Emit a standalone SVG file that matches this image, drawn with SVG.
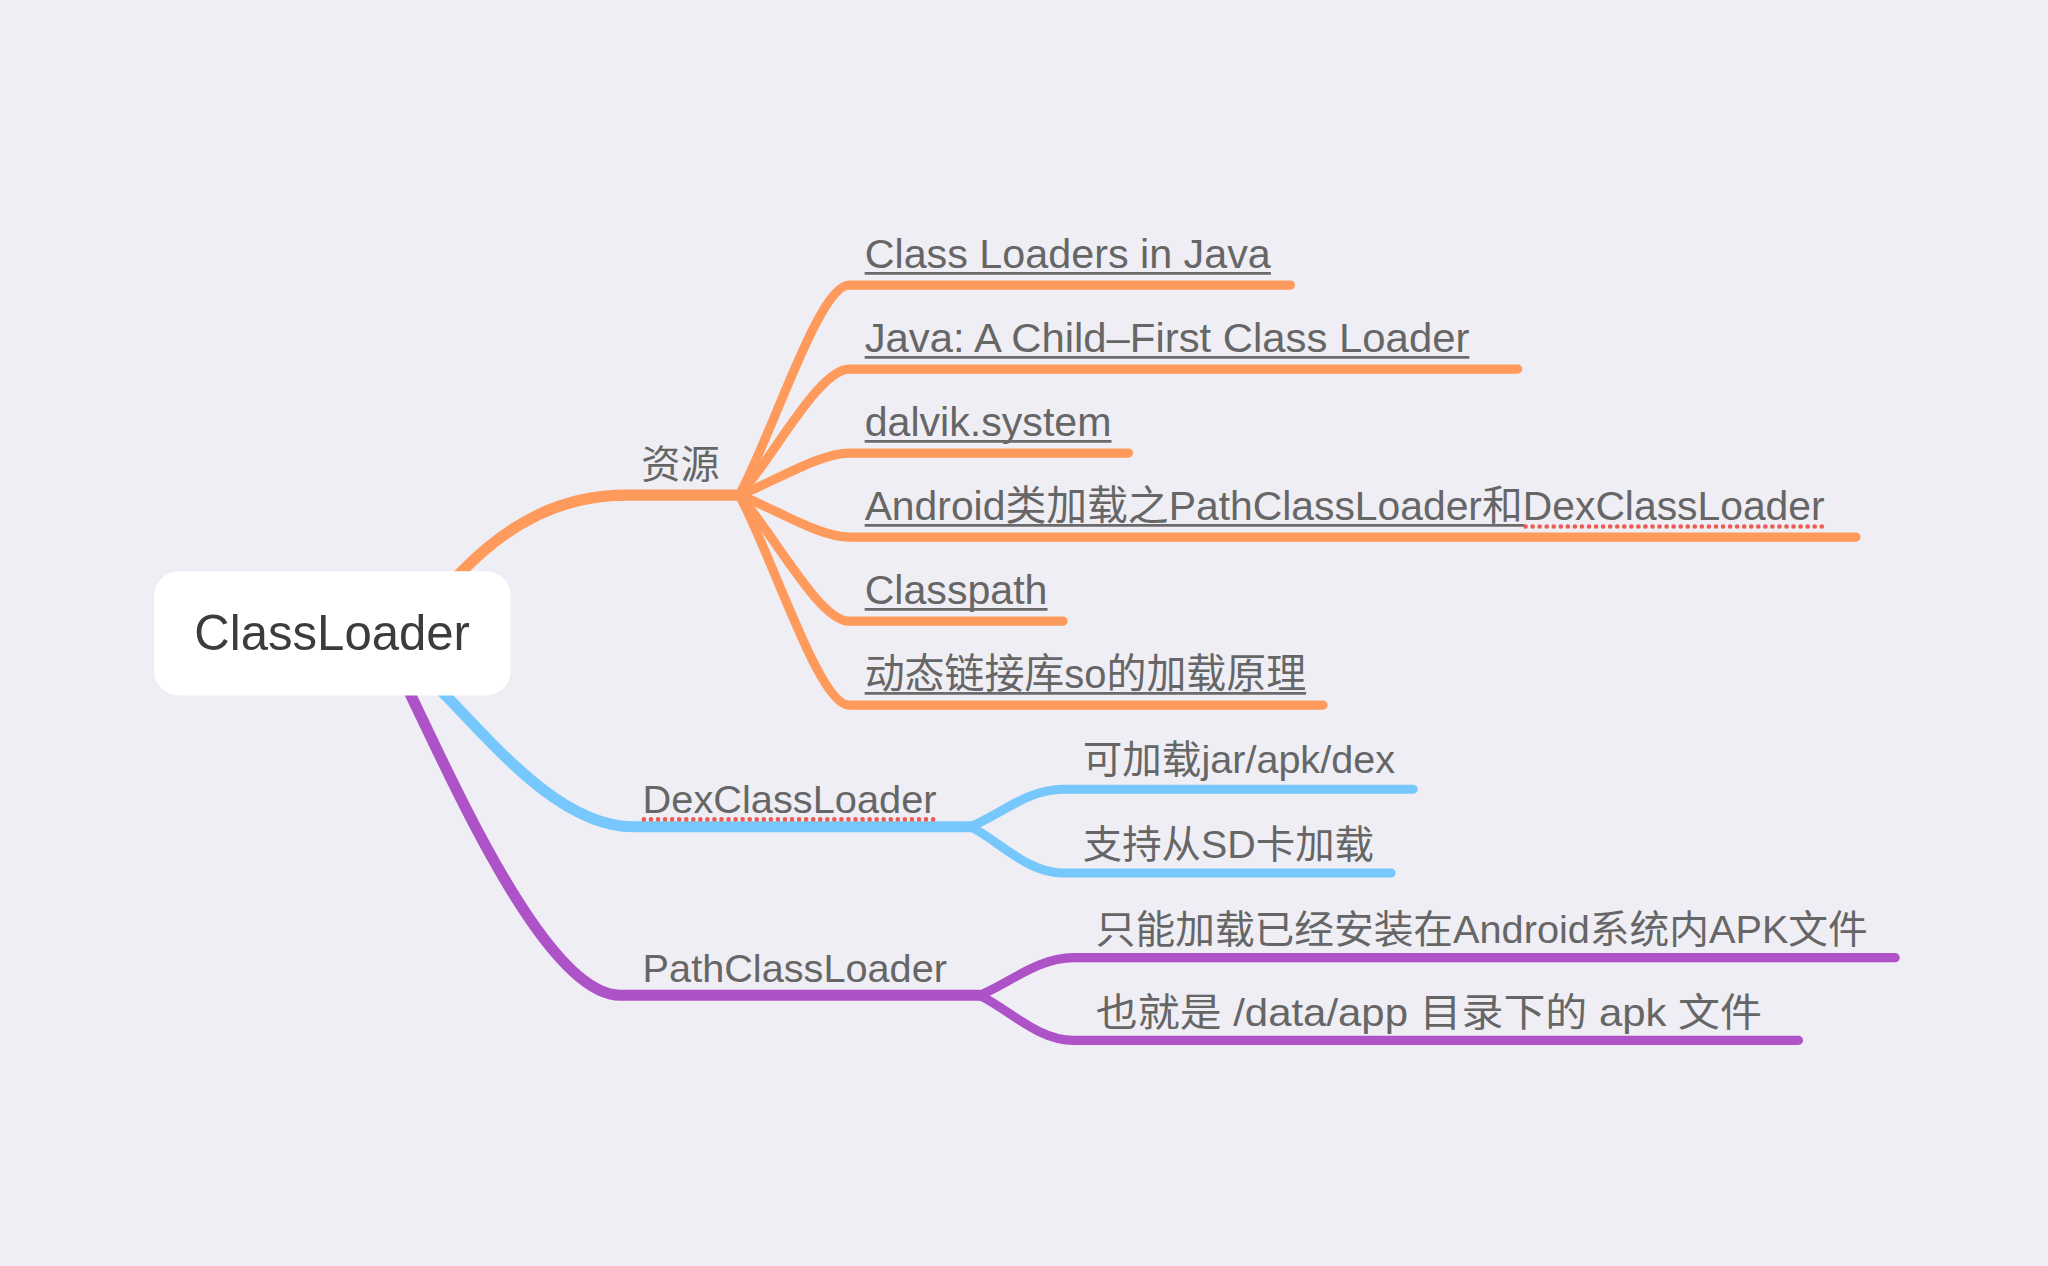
<svg xmlns="http://www.w3.org/2000/svg" width="2048" height="1266" viewBox="0 0 2048 1266">
<style>
.bg{fill:#EFEEF5}
.t{font-family:"Liberation Sans","Noto Sans CJK SC",sans-serif;fill:#666666}
.root{font-family:"Liberation Sans","Noto Sans CJK SC",sans-serif;fill:#3c3c3c;font-size:38px}
.lbl{font-size:30px}
.lnk{font-size:31px}
.ul{stroke:#6b6b6b;stroke-width:2.2;fill:none}
.spell{stroke:#EC5C56;stroke-width:3.6;stroke-linecap:round;stroke-dasharray:0 5.4;fill:none}
.c{fill:none;stroke-linecap:round;stroke-linejoin:round}
.main{stroke-width:8.5}
.sub{stroke-width:7}
.o{stroke:#FE9A5B}
.b{stroke:#76C7FC}
.p{stroke:#AE52C8}
</style>
<rect class="bg" x="0" y="0" width="2048" height="1266"/>
<g transform="scale(1.30612 1.3065)">
<g id="connectors">
<path class="c main o" d="M330,462 L354,437 C390,400 430,379 480,379 L566,379"/>
<path class="c main b" d="M310,500 L340,531 C380,572 430,632.8 485,632.8 L743,632.8"/>
<path class="c main p" d="M298,498 L314,531 C352,610 420,761.8 475,761.8 L750,761.8"/>
<path class="c sub o" d="M566,379 C592,330.8 627,218.2 650,218.2 L988,218.2"/>
<path class="c sub o" d="M566,379 C592,350 627,282.5 650,282.5 L1162,282.5"/>
<path class="c sub o" d="M566,379 C592,369.3 627,346.8 650,346.8 L864,346.8"/>
<path class="c sub o" d="M566,379 C592,388.6 627,411.1 650,411.1 L1421,411.1"/>
<path class="c sub o" d="M566,379 C592,407.9 627,475.4 650,475.4 L814,475.4"/>
<path class="c sub o" d="M566,379 C592,427.2 627,539.7 650,539.7 L1013,539.7"/>
<path class="c sub b" d="M743,632.8 C765,624.2 786,604.1 814,604.1 L1082,604.1"/>
<path class="c sub b" d="M743,632.8 C765,643.4 786,668.2 814,668.2 L1065,668.2"/>
<path class="c sub p" d="M750,761.8 C772,753.2 794,733 822,733 L1451,733"/>
<path class="c sub p" d="M750,761.8 C772,772.1 794,796.3 822,796.3 L1377,796.3"/>
</g>
<g id="node-root">
<rect x="118" y="437.3" width="273" height="95" rx="19" fill="#ffffff"/>
<text class="root" x="148.8" y="497.4" textLength="211" lengthAdjust="spacingAndGlyphs">ClassLoader</text>
</g>
<g id="node-resources">
<text class="t lbl" x="491" y="366">资源</text>
</g>
<g id="node-link1">
<text class="t lnk" x="662" y="205.2" textLength="311" lengthAdjust="spacingAndGlyphs">Class Loaders in Java</text>
<line class="ul" x1="662" y1="209.2" x2="973" y2="209.2"/>
</g>
<g id="node-link2">
<text class="t lnk" x="662" y="269.5" textLength="463" lengthAdjust="spacingAndGlyphs">Java: A Child–First Class Loader</text>
<line class="ul" x1="662" y1="273.5" x2="1125" y2="273.5"/>
</g>
<g id="node-link3">
<text class="t lnk" x="662" y="333.8" textLength="189" lengthAdjust="spacingAndGlyphs">dalvik.system</text>
<line class="ul" x1="662" y1="337.8" x2="851" y2="337.8"/>
</g>
<g id="node-link4">
<text class="t lnk" x="662" y="398.1" textLength="735" lengthAdjust="spacingAndGlyphs">Android类加载之PathClassLoader和DexClassLoader</text>
<line class="ul" x1="662" y1="402.1" x2="1167" y2="402.1"/>
<line class="spell" x1="1168" y1="403" x2="1399" y2="403"/>
</g>
<g id="node-link5">
<text class="t lnk" x="662" y="462.4" textLength="140" lengthAdjust="spacingAndGlyphs">Classpath</text>
<line class="ul" x1="662" y1="466.4" x2="802" y2="466.4"/>
</g>
<g id="node-link6">
<text class="t lnk" x="662" y="526.7" textLength="338" lengthAdjust="spacingAndGlyphs">动态链接库so的加载原理</text>
<line class="ul" x1="662" y1="530.7" x2="1000" y2="530.7"/>
</g>
<g id="node-dex">
<text class="t lbl" x="492" y="622.6" textLength="225" lengthAdjust="spacingAndGlyphs">DexClassLoader</text>
<line class="spell" x1="493" y1="627.2" x2="717" y2="627.2"/>
</g>
<g id="node-dex-1">
<text class="t lbl" x="829" y="591.6" textLength="239" lengthAdjust="spacingAndGlyphs">可加载jar/apk/dex</text>
</g>
<g id="node-dex-2">
<text class="t lbl" x="829" y="656.5" textLength="223" lengthAdjust="spacingAndGlyphs">支持从SD卡加载</text>
</g>
<g id="node-path">
<text class="t lbl" x="492" y="751.6" textLength="233" lengthAdjust="spacingAndGlyphs">PathClassLoader</text>
</g>
<g id="node-path-1">
<text class="t lbl" x="839" y="721.5" textLength="591" lengthAdjust="spacingAndGlyphs">只能加载已经安装在Android系统内APK文件</text>
</g>
<g id="node-path-2">
<text class="t lbl" x="839" y="785.5" textLength="510" lengthAdjust="spacingAndGlyphs">也就是 /data/app 目录下的 apk 文件</text>
</g>
</g>
</svg>
